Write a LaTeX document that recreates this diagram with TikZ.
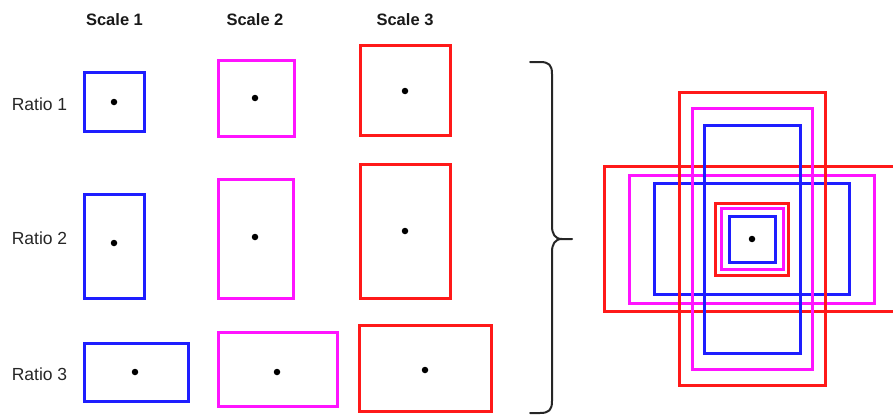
\documentclass[tikz,border=0pt]{standalone}
\usepackage{fontspec}
\setmainfont{Liberation Sans}
\begin{document}
\begin{tikzpicture}[x=1pt,y=-1pt,
  anchorbox/.style={draw,rectangle,line width=3pt,inner sep=0pt,outer sep=0pt},
  sc1/.style={anchorbox,draw={rgb,255:red,30;green,30;blue,255}},
  sc2/.style={anchorbox,draw={rgb,255:red,255;green,20;blue,255}},
  sc3/.style={anchorbox,draw={rgb,255:red,255;green,25;blue,25}},
  wh/.style 2 args={minimum width=#1pt,minimum height=#2pt},
  dotmark/.style={circle,fill=black,inner sep=0pt,minimum size=6.5pt},
  colhead/.style={font=\fontsize{16.5}{18}\selectfont\bfseries,text=black!90,inner sep=0pt},
  rowhead/.style={font=\fontsize{17.5}{19}\selectfont,text=black!85,inner sep=0pt}]
\useasboundingbox (0,0) rectangle (893,415);

% column and row headings
\node[colhead] (s1) at (114.5,20) {Scale 1};
\node[colhead] (s2) at (255,20) {Scale 2};
\node[colhead] (s3) at (405,20) {Scale 3};
\node[rowhead] (r1) at (39.5,104.5) {Ratio 1};
\node[rowhead] (r2) at (39.5,238.5) {Ratio 2};
\node[rowhead] (r3) at (39.5,374) {Ratio 3};

% anchor grid: ratio 1 (square)
\node[sc1,wh={60}{59}] (a11) at (114.5,102) {};
\node[sc2,wh={76}{76}] (a12) at (256,98) {};
\node[sc3,wh={90}{90}] (a13) at (405.5,90.5) {};
% ratio 2 (tall)
\node[sc1,wh={60}{104}] (a21) at (114.5,246.5) {};
\node[sc2,wh={75}{119}] (a22) at (256,239) {};
\node[sc3,wh={90}{134}] (a23) at (405.5,231.5) {};
% ratio 3 (wide)
\node[sc1,wh={104}{58}] (a31) at (136.5,372.5) {};
\node[sc2,wh={119}{74}] (a32) at (278,369.5) {};
\node[sc3,wh={132}{86}] (a33) at (425.5,368.5) {};

% anchor centres
\node[dotmark] (c11) at (114,102) {};
\node[dotmark] (c12) at (255,98) {};
\node[dotmark] (c13) at (405,91) {};
\node[dotmark] (c21) at (114,243) {};
\node[dotmark] (c22) at (255,237) {};
\node[dotmark] (c23) at (405,231) {};
\node[dotmark] (c31) at (135,372) {};
\node[dotmark] (c32) at (277,372) {};
\node[dotmark] (c33) at (425,370) {};

% curly brace
\coordinate (bt) at (530,62);
\coordinate (bm) at (572,239);
\coordinate (bb) at (530,413);
\draw[line width=2pt,black!85,line cap=round,line join=round]
  (bt) -- (540,62) .. controls (549,62) and (552,65) .. (552,74)
  -- (552,226) .. controls (552,234) and (555,239) .. (562,239) -- (bm)
  (562,239) .. controls (555,239) and (552,244) .. (552,252)
  -- (552,401) .. controls (552,410) and (549,413) .. (540,413) -- (bb);

% all anchors overlaid on one centre
\coordinate (ctr) at (752,239);
\node[sc3,wh={295}{145}] (w3) at (ctr) {};
\node[sc2,wh={245}{128}] (w2) at (ctr) {};
\node[sc1,wh={195}{111}] (w1) at (ctr) {};
\node[sc3,wh={146}{293}] (t3) at (ctr) {};
\node[sc2,wh={120}{261}] (t2) at (ctr) {};
\node[sc1,wh={96}{228}] (t1) at (ctr) {};
\node[sc3,wh={73}{72}] (q3) at (ctr) {};
\node[sc2,wh={62}{61}] (q2) at (ctr) {};
\node[sc1,wh={46}{46}] (q1) at (ctr) {};
\node[dotmark] (cc) at (ctr) {};
\end{tikzpicture}
\end{document}
